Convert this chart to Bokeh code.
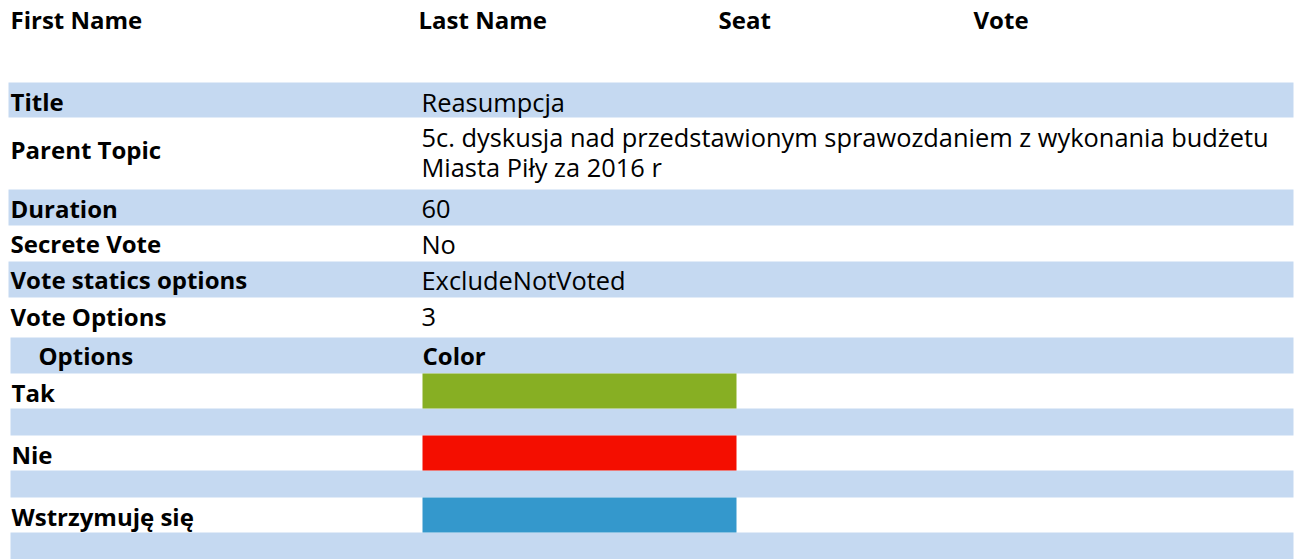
from bokeh.plotting import figure
from bokeh.models import Range1d, ColumnDataSource
from bokeh.core.properties import value
from bokeh.embed import file_html
from bokeh.resources import INLINE

# ---- data ----
header_labels = ["First Name", "Last Name", "Seat", "Vote"]
field_names = ["Title", "Parent Topic", "Duration", "Secrete Vote",
               "Vote statics options", "Vote Options"]
field_values = ["Reasumpcja",
                "5c. dyskusja nad przedstawionym sprawozdaniem z wykonania budżetu\nMiasta Piły za 2016 r",
                "60", "No", "ExcludeNotVoted", "3"]
option_header = ["Options", "Color"]
option_names = ["Tak", "Nie", "Wstrzymuję się"]
option_colors = ["#87AF23", "#F40E00", "#3498CC"]

# ---- layout / style ----
W, H = 1296, 559
BAND = "#C5D9F1"
FONT = "Open Sans"
FS_REG = "25.4px"
FS_BOLD = "24px"
TEXT_DY = -9          # compensation for rendered baseline position
header_x = [10, 418, 718, 973]
header_base = 28
field_top = 82
field_heights = [35, 72, 36, 36, 36, 40]
field_base_off = [7, 0, 8, 9, 9, 12]
band_left, band_right = 8, 1293
label_x = 10
value_x = 421
opt_left = 10
opt_head_h = 36
opt_row_h = 35
opt_gap_h = 27
swatch_l, swatch_r = 422, 736

p = figure(width=W, height=H, output_backend="svg", toolbar_location=None,
           x_range=Range1d(0, W), y_range=Range1d(H, 0), min_border=0,
           background_fill_color="white", border_fill_color="white")
p.axis.visible = False
p.grid.visible = False
p.outline_line_color = None

bands = dict(left=[], right=[], top=[], bottom=[])
texts = dict(x=[], y=[], t=[], bold=[])
def add_text(x, y, t, bold):
    texts["x"].append(x); texts["y"].append(y + TEXT_DY)
    texts["t"].append(t); texts["bold"].append(bold)

for lab, x in zip(header_labels, header_x):
    add_text(x, header_base, lab, True)

y = field_top
for i, (nm, val, h, off) in enumerate(zip(field_names, field_values,
                                          field_heights, field_base_off)):
    if i % 2 == 0:
        bands["left"].append(band_left); bands["right"].append(band_right)
        bands["top"].append(y); bands["bottom"].append(y + h)
    lines = val.split("\n")
    if len(lines) == 1:
        add_text(label_x, y + h - off, nm, True)
        add_text(value_x, y + h - off, val, False)
    else:
        add_text(label_x, y + h / 2 + 5, nm, True)
        for k, ln in enumerate(lines):
            add_text(value_x, y + 28 + k * 30, ln, False)
    y += h

# options table
bands["left"].append(opt_left); bands["right"].append(band_right)
bands["top"].append(y); bands["bottom"].append(y + opt_head_h)
add_text(opt_left + 28, y + opt_head_h - 9, option_header[0], True)
add_text(swatch_l, y + opt_head_h - 9, option_header[1], True)
y += opt_head_h
sw = dict(left=[], right=[], top=[], bottom=[], color=[])
for nm, col in zip(option_names, option_colors):
    add_text(opt_left + 1, y + opt_row_h - 7, nm, True)
    sw["left"].append(swatch_l); sw["right"].append(swatch_r)
    sw["top"].append(y); sw["bottom"].append(y + opt_row_h); sw["color"].append(col)
    y += opt_row_h
    bands["left"].append(opt_left); bands["right"].append(band_right)
    bands["top"].append(y); bands["bottom"].append(y + opt_gap_h)
    y += opt_gap_h

p.quad(left="left", right="right", top="top", bottom="bottom",
       source=ColumnDataSource(bands), fill_color=BAND, line_color=None)
p.quad(left="left", right="right", top="top", bottom="bottom",
       source=ColumnDataSource(sw), fill_color="color", line_color=None)

for bold in (True, False):
    idx = [i for i, b in enumerate(texts["bold"]) if b == bold]
    src = ColumnDataSource(dict(x=[texts["x"][i] for i in idx],
                                y=[texts["y"][i] for i in idx],
                                t=[texts["t"][i] for i in idx]))
    p.text(x="x", y="y", text="t", source=src, text_font=value(FONT),
           text_font_size=FS_BOLD if bold else FS_REG,
           text_font_style="bold" if bold else "normal",
           text_color="black", text_baseline="alphabetic", text_align="left")

open("out.html", "w").write(file_html(p, INLINE))
